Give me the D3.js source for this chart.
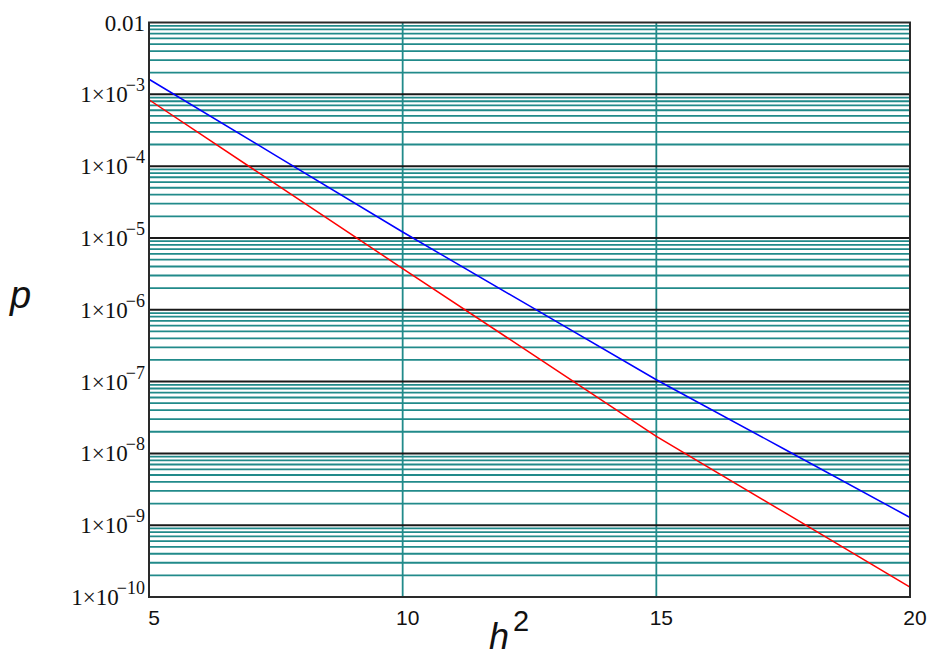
<!DOCTYPE html>
<html>
<head>
<meta charset="utf-8">
<script src="https://cdn.jsdelivr.net/npm/d3@7/dist/d3.min.js"></script>
<style>
  body { margin:0; background:#fff; }
  svg { display:block; }
</style>
</head>
<body>
<div id="chart"></div>
<script>
// p vs h^2, log scale on p

const h2 = [5, 7.5, 10, 12.5, 15, 17.5, 20];
const pBlue = [1.62e-3, 1.40e-4, 1.21e-5, 1.13e-6, 1.06e-7, 1.17e-8, 1.28e-9];
const pRed  = [8.4e-4, 5.6e-5, 3.75e-6, 2.55e-7, 1.73e-8, 1.54e-9, 1.37e-10];

const xTicks = [5, 10, 15, 20];
const yDecades = [-2, -3, -4, -5, -6, -7, -8, -9, -10];

const width = 928, height = 659;
const margin = { left: 149, right: 18, top: 22.5, bottom: 62 };

const svg = d3.select('#chart').append('svg')
  .attr('width', width).attr('height', height);

const x = d3.scaleLinear().domain([5, 20]).range([margin.left, width - margin.right]);
const y = d3.scaleLog().domain([1e-10, 1e-2]).range([height - margin.bottom, margin.top]);

const [x0, x1] = x.range();
const [yb, yt] = y.range();

// minor grid (2..9 in every decade)
const minor = [];
for (let e = -10; e < -2; e++) {
  for (let k = 2; k <= 9; k++) minor.push(k * Math.pow(10, e));
}
svg.append('g').selectAll('line').data(minor).join('line')
  .attr('x1', x0).attr('x2', x1)
  .attr('y1', d => y(d)).attr('y2', d => y(d))
  .attr('stroke', '#218a8a').attr('stroke-width', 1.8);

// vertical grid
svg.append('g').selectAll('line').data(xTicks.slice(1, -1)).join('line')
  .attr('x1', d => x(d)).attr('x2', d => x(d))
  .attr('y1', yt).attr('y2', yb)
  .attr('stroke', '#218a8a').attr('stroke-width', 1.8);

// decade lines
svg.append('g').selectAll('line').data(yDecades.slice(1, -1)).join('line')
  .attr('x1', x0).attr('x2', x1)
  .attr('y1', d => y(Math.pow(10, d))).attr('y2', d => y(Math.pow(10, d)))
  .attr('stroke', '#1a1a1a').attr('stroke-width', 2);

// curves
const line = d3.line().x(d => x(d[0])).y(d => y(d[1]));
svg.append('path').datum(h2.map((v, i) => [v, pBlue[i]]))
  .attr('d', line).attr('fill', 'none').attr('stroke', '#0000ff').attr('stroke-width', 1.5);
svg.append('path').datum(h2.map((v, i) => [v, pRed[i]]))
  .attr('d', line).attr('fill', 'none').attr('stroke', '#ff0000').attr('stroke-width', 1.5);

// frame
svg.append('rect')
  .attr('x', x0).attr('y', yt).attr('width', x1 - x0).attr('height', yb - yt)
  .attr('fill', 'none').attr('stroke', '#2a2a2a').attr('stroke-width', 2);

// y tick labels
const yl = svg.append('g')
  .style('font-family', '"Liberation Serif", "Times New Roman", serif')
  .attr('fill', '#111');
yDecades.forEach(e => {
  const t = yl.append('text')
    .attr('x', 145).attr('y', y(Math.pow(10, e)) + 8)
    .attr('text-anchor', 'end')
    .style('font-size', '23px');
  if (e === -2) {
    t.text('0.01');
  } else {
    t.append('tspan').text('1×10');
    t.append('tspan').attr('dy', -11).attr('dx', -2)
      .style('font-size', '18px').text('\u2212' + (-e));
  }
});

// x tick labels
svg.append('g').selectAll('text').data(xTicks).join('text')
  .attr('x', d => x(d) + 5).attr('y', yb + 28)
  .attr('text-anchor', 'middle')
  .style('font-family', '"Liberation Sans", Arial, sans-serif')
  .style('font-size', '21px').attr('fill', '#111')
  .text(d => d);

// axis titles
svg.append('text')
  .attr('x', 10).attr('y', 308)
  .style('font-family', '"Liberation Sans", Arial, sans-serif')
  .style('font-style', 'italic').style('font-size', '38px').attr('fill', '#111')
  .text('p');

const xt = svg.append('text')
  .attr('x', 489).attr('y', 649)
  .style('font-family', '"Liberation Sans", Arial, sans-serif')
  .attr('fill', '#111');
xt.append('tspan').style('font-style', 'italic').style('font-size', '36px').text('h');
xt.append('tspan').attr('dy', -18).attr('dx', 4).style('font-size', '29px').text('2');
</script>
</body>
</html>
